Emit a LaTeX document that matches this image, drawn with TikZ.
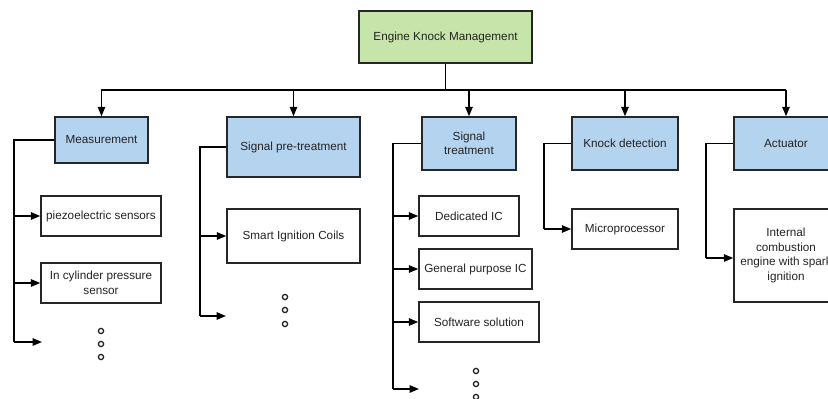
\documentclass[tikz,border=0pt]{standalone}
\usepackage{fontspec}
\setmainfont{Liberation Sans}
\usetikzlibrary{arrows.meta}
\definecolor{bluefill}{RGB}{180,211,239}
\definecolor{greenfill}{RGB}{199,228,170}
\definecolor{txt}{RGB}{35,35,35}
\tikzset{
  box/.style={draw=black!85, line width=1.1pt, text=txt, align=center, inner sep=0pt,
    font=\fontsize{8.8}{10.9}\selectfont},
  hdr/.style={box, fill=bluefill},
  root/.style={box, fill=greenfill},
  conn/.style={draw=black, line width=1.2pt},
  arr/.style={conn, -{Triangle[length=7pt,width=5.5pt]}},
  dotc/.style={draw=black!85, line width=1pt}
}
\begin{document}
\begin{tikzpicture}[x=0.75pt, y=-0.75pt]
\useasboundingbox (0,0) rectangle (828,399);
% top
\node[root, minimum width=129.75pt, minimum height=39pt] (top) at (445.5,37) {Engine Knock Management};
% headers
\node[hdr, minimum width=69.75pt, minimum height=34.5pt] (meas) at (101.5,140) {Measurement};
\node[hdr, minimum width=99.75pt, minimum height=45pt] (spt) at (293.5,147) {Signal pre-treatment};
\node[hdr, minimum width=70.5pt, minimum height=39.75pt] (st) at (469,143.5) {Signal\\treatment};
\node[hdr, minimum width=79.5pt, minimum height=39.75pt] (kd) at (625,143.5) {Knock detection};
\node[hdr, minimum width=78pt, minimum height=39.75pt] (act) at (786,143.5) {Actuator};
% leaves
\node[box, minimum width=90pt, minimum height=30pt] (piezo) at (101,216) {piezoelectric sensors};
\node[box, minimum width=90pt, minimum height=30pt] (cyl) at (101,283) {In cylinder pressure\\sensor};
\node[box, minimum width=99.75pt, minimum height=40.5pt] (sic) at (293.5,236) {Smart Ignition Coils};
\node[box, minimum width=75pt, minimum height=30pt] (ded) at (469,216) {Dedicated IC};
\node[box, minimum width=84.75pt, minimum height=30pt] (gp) at (475.5,269) {General purpose IC};
\node[box, minimum width=90pt, minimum height=30pt] (sw) at (479,322) {Software solution};
\node[box, minimum width=79.5pt, minimum height=30pt] (mic) at (625,229) {Microprocessor};
\node[box, minimum width=78pt, minimum height=69.75pt] (ice) at (786,255.5) {Internal\\combustion\\engine with spark\\ignition};
% top bus
\coordinate (busL) at (101,90);
\coordinate (busR) at (786,90);
\coordinate (busM) at (top.south |- busL);
\draw[conn] (top.south) -- (busM);
\draw[conn] (busL) -- (busR);
\draw[arr] (meas.north |- busL) -- (meas.north);
\draw[arr] (spt.north |- busL) -- (spt.north);
\draw[arr] (st.north |- busL) -- (st.north);
\draw[arr] (kd.north |- busL) -- (kd.north);
\draw[arr] (act.north |- busL) -- (act.north);
% measurement branch
\coordinate (m1) at (14,342);
\coordinate (m1t) at (42,342);
\draw[conn] (meas.west) -| (m1);
\draw[arr] (m1) -- (m1t);
\draw[arr] (piezo.west -| m1) -- (piezo.west);
\draw[arr] (cyl.west -| m1) -- (cyl.west);
% signal pre-treatment branch
\coordinate (s1) at (200,316);
\coordinate (s1t) at (226,316);
\draw[conn] (spt.west) -| (s1);
\draw[arr] (s1) -- (s1t);
\draw[arr] (sic.west -| s1) -- (sic.west);
% signal treatment branch
\coordinate (t1) at (393,389);
\coordinate (t1t) at (419,389);
\draw[conn] (st.west) -| (t1);
\draw[arr] (t1) -- (t1t);
\draw[arr] (ded.west -| t1) -- (ded.west);
\draw[arr] (gp.west -| t1) -- (gp.west);
\draw[arr] (sw.west -| t1) -- (sw.west);
% knock detection branch
\coordinate (k1) at (544,229);
\draw[conn] (kd.west) -| (k1);
\draw[arr] (k1) -- (mic.west);
% actuator branch
\coordinate (a1) at (706,258);
\draw[conn] (act.west) -| (a1);
\draw[arr] (a1) -- (a1 -| ice.west);
% dots
\foreach \y in {331,344,357} \draw[dotc] (101,\y) circle (2.6);
\foreach \y in {297,310,324} \draw[dotc] (285,\y) circle (2.6);
\foreach \y in {371,384,397} \draw[dotc] (476,\y) circle (2.6);
\end{tikzpicture}
\end{document}
